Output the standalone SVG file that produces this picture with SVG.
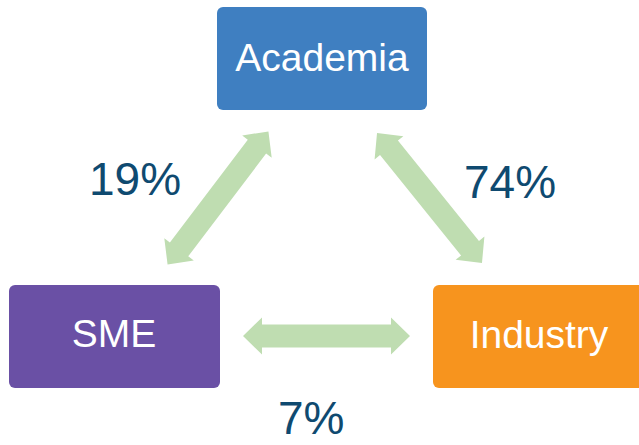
<svg xmlns="http://www.w3.org/2000/svg" xmlns:xlink="http://www.w3.org/1999/xlink" width="639" height="445" viewBox="0 0 639 445">
  <style>
    .label { font-family: "Liberation Sans", Arial, sans-serif; font-size: 39px; fill: #ffffff; text-anchor: middle; }
    .pct { font-family: "Liberation Sans", Arial, sans-serif; font-size: 46px; fill: #0F4A70; }
    .arrow { fill: #BFDDB1; }
  </style>
  <defs>
    <path id="dblarrow" d="M -83.5 0 L -64.5 -18.5 L -64.5 -11.5 L 64.5 -11.5 L 64.5 -18.5 L 83.5 0 L 64.5 18.5 L 64.5 11.5 L -64.5 11.5 L -64.5 18.5 Z"/>
  </defs>
  <rect width="639" height="445" fill="#ffffff"/>
  <g id="connectors">
    <use xlink:href="#dblarrow" href="#dblarrow" class="arrow" transform="translate(218 198) rotate(-52.85)"/>
    <use xlink:href="#dblarrow" href="#dblarrow" class="arrow" transform="translate(429.5 198) rotate(51.07)"/>
    <use xlink:href="#dblarrow" href="#dblarrow" class="arrow" transform="translate(326.5 336)"/>
  </g>
  <g id="academia">
    <rect x="217" y="7" width="210" height="103" rx="6" fill="#3F7FC1"/>
    <text class="label" x="322" y="71">Academia</text>
  </g>
  <g id="sme">
    <rect x="9" y="285" width="211" height="103" rx="6" fill="#6A50A5"/>
    <text class="label" x="114" y="347">SME</text>
  </g>
  <g id="industry">
    <rect x="433" y="285" width="212" height="103" rx="6" fill="#F7941E"/>
    <text class="label" x="539" y="348">Industry</text>
  </g>
  <g id="labels">
    <text class="pct" x="89" y="195">19%</text>
    <text class="pct" x="464" y="198">74%</text>
    <text class="pct" x="278" y="434">7%</text>
  </g>
</svg>
